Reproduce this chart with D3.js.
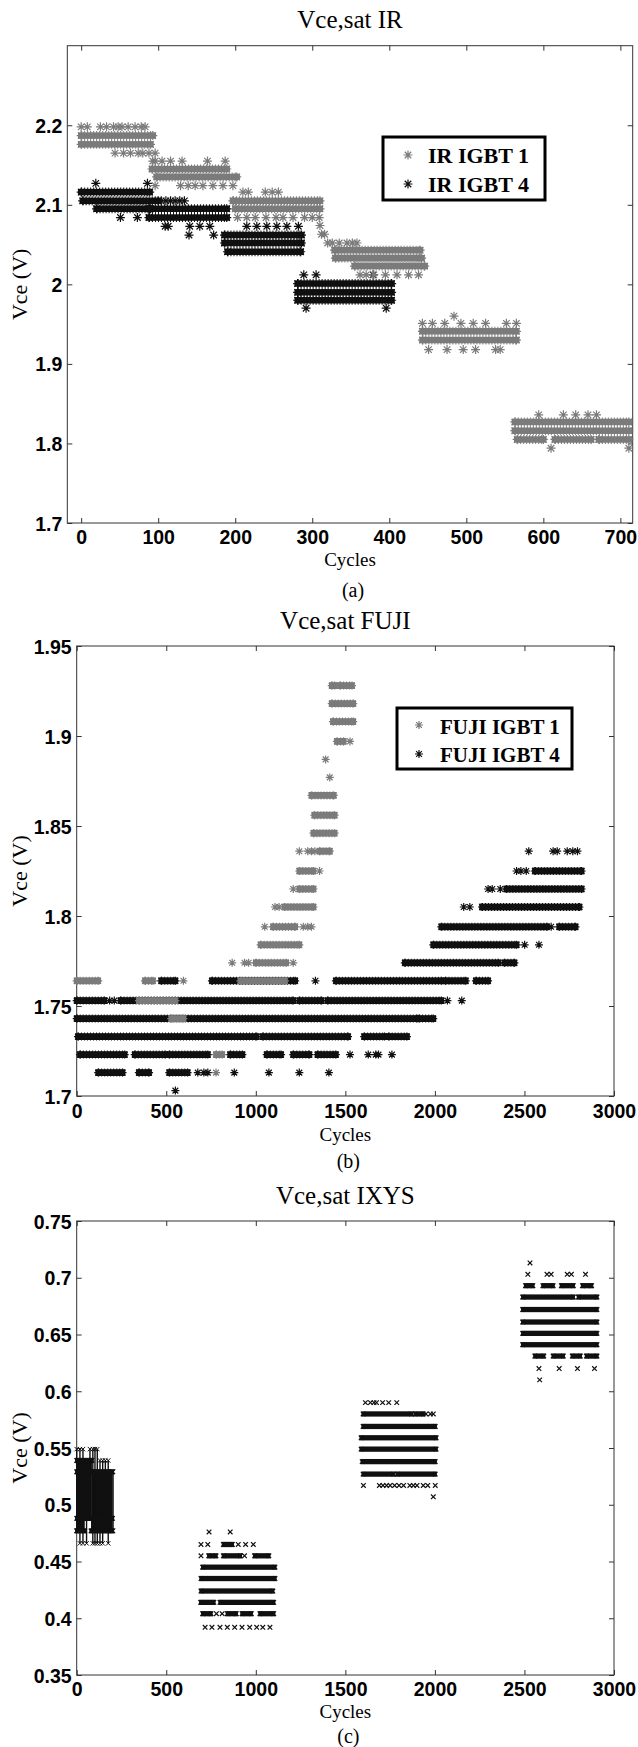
<!DOCTYPE html>
<html><head><meta charset="utf-8">
<script src="https://cdn.jsdelivr.net/npm/d3@7"></script>
<style>
html,body{margin:0;padding:0;background:#fff;}
svg{display:block;}
</style></head>
<body>
<script>
// ---------- Panel (a): Vce,sat IR ----------
const irCycleTicks = [0,100,200,300,400,500,600,700];
const irVoltTicks = [1.7,1.8,1.9,2.0,2.1,2.2];
// dense runs: [startCycle, endCycle, Vce]
const irIgbt1Runs = [
 [0,93,2.187],[0,90,2.176],
 [92,189,2.145],[98,202,2.135],
 [197,310,2.105],[200,310,2.095],
 [329,440,2.043],[330,442,2.033],[355,446,2.023],
 [443,565,1.941],[443,565,1.930],
 [563,711,1.827],[563,711,1.816],[566,600,1.805],[615,662,1.805],[672,711,1.805]
];
const irIgbt1Points = [
 [0,2.198],[8,2.198],[25,2.198],[33,2.198],[42,2.198],[48,2.198],[53,2.198],[61,2.198],[70,2.198],[78,2.198],[83,2.198],
 [44,2.165],[55,2.165],[64,2.165],[74,2.165],[80,2.165],[88,2.165],[96,2.165],
 [93,2.155],[96,2.124],
 [96,2.155],[105,2.155],[116,2.155],[131,2.155],[164,2.155],[187,2.155],
 [129,2.124],[139,2.124],[148,2.124],[158,2.124],[171,2.124],[184,2.124],[197,2.124],
 [210,2.116],[217,2.116],[239,2.116],[248,2.116],[256,2.116],
 [203,2.084],[215,2.084],[226,2.084],[240,2.084],[253,2.084],[262,2.084],[275,2.084],[290,2.084],[300,2.084],[309,2.084],
 [310,2.074],[312,2.063],[316,2.063],[320,2.052],
 [326,2.052],[335,2.052],[345,2.052],[352,2.052],[358,2.052],
 [362,2.012],[370,2.012],[380,2.012],[395,2.012],[410,2.012],[425,2.012],[438,2.012],
 [484,1.960],
 [443,1.951],[456,1.951],[472,1.951],[493,1.951],[509,1.951],[525,1.951],[552,1.951],[565,1.951],
 [451,1.918],[475,1.918],[496,1.918],[512,1.918],[538,1.918],[544,1.918],
 [594,1.836],[626,1.836],[642,1.836],[658,1.836],[669,1.836],
 [610,1.794],[711,1.794]
];
const irIgbt4Runs = [
 [0,89,2.116],[2,100,2.105],[20,90,2.095],
 [88,189,2.095],[88,189,2.084],
 [186,286,2.062],[186,286,2.052],[190,285,2.041],
 [281,403,2.001],[281,403,1.990],[281,403,1.980]
];
const irIgbt4Points = [
 [19,2.127],[86,2.127],
 [51,2.084],[73,2.084],
 [104,2.105],[110,2.105],[116,2.105],[122,2.105],[128,2.105],[134,2.105],
 [109,2.073],[113,2.073],[141,2.073],[154,2.073],[167,2.073],
 [140,2.062],[172,2.062],
 [215,2.073],[228,2.073],[241,2.073],[254,2.073],[267,2.073],[282,2.073],
 [289,2.012],[305,2.012],[379,2.012],
 [292,1.970],[396,1.970]
];
const irLegend = ["IR IGBT 1","IR IGBT 4"];

// ---------- Panel (b): Vce,sat FUJI ----------
const fujiCycleTicks = [0,500,1000,1500,2000,2500,3000];
const fujiVoltTicks = [1.7,1.75,1.8,1.85,1.9,1.95];
const fujiIgbt1Runs = [
 [1424,1440,1.928],[1470,1537,1.928],
 [1424,1544,1.918],[1431,1544,1.908],[1453,1490,1.897],
 [1311,1435,1.867],[1327,1440,1.856],[1322,1440,1.846],
 [1356,1413,1.836],[1243,1322,1.825],[1243,1322,1.815],
 [1160,1322,1.805],[1096,1220,1.794],[1027,1243,1.784],
 [1000,1170,1.774],
 [0,120,1.764],[381,426,1.764],[914,1163,1.764],
 [347,551,1.753],[528,596,1.743],[778,812,1.723]
];
const fujiIgbt1Points = [
 [1526,1.897],[1390,1.887],[1413,1.877],
 [1243,1.836],[1290,1.836],[1311,1.836],[1330,1.836],
 [1356,1.825],[1209,1.815],[1107,1.805],[1130,1.805],
 [1050,1.794],[1265,1.794],[1290,1.794],[1311,1.794],
 [868,1.774],[937,1.774],[960,1.774],[1209,1.774],
 [596,1.764],[778,1.713]
];
const fujiIgbt4Runs = [
 [120,256,1.713],[347,404,1.713],[517,619,1.713],
 [18,268,1.723],[324,494,1.723],[517,732,1.723],[857,925,1.723],[1061,1141,1.723],[1209,1299,1.723],[1345,1447,1.723],
 [7,1005,1.733],[1039,1515,1.733],[1605,1719,1.733],[1742,1844,1.733],
 [0,1900,1.743],[1912,1991,1.743],
 [0,154,1.753],[245,1209,1.753],[1243,1367,1.753],[1401,2036,1.753],
 [472,551,1.764],[755,1220,1.764],[1447,2036,1.764],[2059,2172,1.764],[2229,2297,1.764],
 [1832,2354,1.774],[2388,2444,1.774],
 [1991,2456,1.784],
 [2036,2626,1.794],[2694,2785,1.794],
 [2263,2807,1.805],
 [2399,2819,1.815],
 [2558,2819,1.825]
];
const fujiIgbt4Points = [
 [551,1.703],
 [676,1.713],[710,1.713],[732,1.713],[880,1.713],[1073,1.713],[1243,1.713],[1408,1.713],
 [1526,1.723],[1628,1.723],[1670,1.723],[1685,1.723],[1760,1.723],
 [184,1.753],[210,1.753],[2070,1.753],[2150,1.753],
 [1333,1.764],
 [2501,1.784],[2581,1.784],
 [2649,1.794],
 [2161,1.805],[2195,1.805],
 [2297,1.815],[2320,1.815],[2365,1.815],
 [2456,1.825],[2480,1.825],[2510,1.825],
 [2524,1.836],[2660,1.836],[2683,1.836],[2739,1.836],[2770,1.836],[2796,1.836]
];
const fujiLegend = ["FUJI IGBT 1","FUJI IGBT 4"];

// ---------- Panel (c): Vce,sat IXYS ----------
const ixysCycleTicks = [0,500,1000,1500,2000,2500,3000];
const ixysVoltTicks = [0.35,0.4,0.45,0.5,0.55,0.6,0.65,0.7,0.75];
// solid overlap region of the first block: [startCycle, endCycle, lowVce, highVce]
const ixysBlocks = [
 [0,85,0.486,0.541],[85,200,0.486,0.531],[0,45,0.476,0.486],[80,200,0.476,0.486]
];
const ixysRuns = [
 [0,85,0.539],[0,200,0.529],[0,200,0.488],[0,45,0.477],[80,200,0.477],
 [819,869,0.465],[737,778,0.455],[819,914,0.455],[993,1073,0.455],
 [703,1107,0.445],[694,1107,0.435],[694,1095,0.424],[692,766,0.414],[800,1100,0.414],
 [703,750,0.404],[841,891,0.404],[923,975,0.404],[1023,1100,0.404],
 [1599,1870,0.580],[1890,1935,0.580],[1599,2002,0.569],[1588,2007,0.559],[1588,2007,0.549],
 [1594,2002,0.538],[1599,1770,0.527],[1790,2002,0.527],
 [2506,2547,0.693],[2603,2660,0.693],[2706,2773,0.693],[2824,2875,0.693],
 [2490,2773,0.683],[2801,2905,0.683],[2490,2905,0.672],[2490,2905,0.661],[2490,2905,0.651],[2490,2905,0.641],
 [2558,2608,0.631],[2660,2717,0.631],[2767,2812,0.631],[2846,2905,0.631]
];
// vertical strokes in the early block: [cycle, lowVce, highVce]
const ixysColumns = [
 [0,0.477,0.549],[5,0.477,0.539],[18,0.466,0.549],[35,0.466,0.549],[55,0.466,0.539],[74,0.488,0.549],[90,0.466,0.549],
 [102,0.466,0.549],[115,0.466,0.549],[130,0.466,0.539],[145,0.466,0.539],[160,0.477,0.539],[176,0.466,0.539],[195,0.477,0.529],[203,0.477,0.529]
];
const ixysPoints = [
 [739,0.476],[857,0.476],
 [694,0.465],[732,0.465],[902,0.465],[943,0.465],[986,0.465],
 [694,0.455],[937,0.455],
 [780,0.404],[812,0.404],
 [717,0.392],[755,0.392],[800,0.392],[841,0.392],[882,0.392],[923,0.392],[966,0.392],[1005,0.392],[1039,0.392],[1079,0.392],
 [1612,0.590],[1640,0.590],[1660,0.590],[1674,0.590],[1708,0.590],[1742,0.590],[1787,0.590],
 [1950,0.580],[1975,0.580],[1991,0.580],
 [1601,0.517],[1690,0.517],[1710,0.517],[1730,0.517],[1750,0.517],[1775,0.517],[1800,0.517],[1825,0.517],[1860,0.517],[1880,0.517],[1900,0.517],[1935,0.517],[1960,0.517],[2002,0.517],
 [1991,0.507],
 [2531,0.713],
 [2519,0.703],[2626,0.703],[2649,0.703],[2739,0.703],[2762,0.703],[2841,0.703],
 [2581,0.620],[2694,0.620],[2796,0.620],[2891,0.620],
 [2585,0.610]
];

// ---------- drawing ----------
const W = 638, H = 1747;
const GRAY = "#7b7b7b", BLACK = "#101010";
const SERIF = "'Liberation Serif','Times New Roman',serif";
const SANS = "'Liberation Sans',Arial,sans-serif";
const svg = d3.select("body").append("svg").attr("width", W).attr("height", H);

function starPath(s){ const k = s*0.72; return `M${-s},0H${s}M0,${-s}V${s}M${-k},${-k}L${k},${k}M${-k},${k}L${k},${-k}`; }
function crossPath(s){ return `M${-s},${-s}L${s},${s}M${-s},${s}L${s},${-s}`; }

function panel(cfg){
  const x = d3.scaleLinear().domain(cfg.xDomain).range([cfg.left, cfg.right]);
  const y = d3.scaleLinear().domain(cfg.yDomain).range([cfg.bottom, cfg.top]);
  const g = svg.append("g");
  const cx = (cfg.left + cfg.right)/2;
  g.append("text").attr("x", cx).attr("y", cfg.titleY).attr("text-anchor","middle")
   .attr("font-family", SERIF).attr("font-size", 25).text(cfg.title);
  const axB = g.append("g").attr("transform", `translate(0,${cfg.bottom})`)
    .call(d3.axisBottom(x).tickValues(cfg.xTicks).tickSizeInner(-5).tickSizeOuter(0).tickPadding(8).tickFormat(d3.format("d")));
  const axL = g.append("g").attr("transform", `translate(${cfg.left},0)`)
    .call(d3.axisLeft(y).tickValues(cfg.yTicks).tickSizeInner(-5).tickSizeOuter(0).tickPadding(5).tickFormat(d => String(+d.toFixed(2))));
  const axT = g.append("g").attr("transform", `translate(0,${cfg.top})`)
    .call(d3.axisTop(x).tickValues(cfg.xTicks).tickSizeInner(-5).tickSizeOuter(0).tickFormat(""));
  const axR = g.append("g").attr("transform", `translate(${cfg.right},0)`)
    .call(d3.axisRight(y).tickValues(cfg.yTicks).tickSizeInner(-5).tickSizeOuter(0).tickFormat(""));
  [axB, axL, axT, axR].forEach(a => { a.select(".domain").remove(); a.selectAll("line").attr("stroke","#333"); });
  axB.selectAll("text").attr("font-family", SANS).attr("font-weight","bold").attr("font-size", 19.5).attr("fill","#000")
    .attr("dy", null).attr("y", cfg.tickLabelDy);
  axL.selectAll("text").attr("font-family", SANS).attr("font-weight","bold").attr("font-size", 19.5).attr("fill","#000").attr("dy","0.36em");
  g.append("rect").attr("x", cfg.left).attr("y", cfg.top).attr("width", cfg.right-cfg.left).attr("height", cfg.bottom-cfg.top)
   .attr("fill","none").attr("stroke","#333").attr("stroke-width",1);
  g.append("text").attr("x", cx).attr("y", cfg.cyclesY).attr("text-anchor","middle")
   .attr("font-family", SERIF).attr("font-size", 19).text("Cycles");
  g.append("text").attr("x", cx+3).attr("y", cfg.subY).attr("text-anchor","middle")
   .attr("font-family", SERIF).attr("font-size", 20).text(cfg.sub);
  g.append("text").attr("transform", `translate(27,${(cfg.top+cfg.bottom)/2}) rotate(-90)`).attr("text-anchor","middle")
   .attr("font-family", SERIF).attr("font-size", 22).text("Vce (V)");
  const plot = g.append("g");
  return {x, y, g, plot};
}

function drawSeries(p, runs, pts, color, s, marker, coreFrac, comb){
  const {x, y, plot} = p;
  const gs = plot.append("g");
  const mp = marker === "star" ? starPath(s) : crossPath(s);
  gs.selectAll("rect.core").data(runs).join("rect").attr("class","core")
    .attr("x", d => x(d[0]) - s*0.7).attr("width", d => x(d[1]) - x(d[0]) + s*1.4)
    .attr("y", d => y(d[2]) - s*coreFrac).attr("height", 2*s*coreFrac).attr("fill", color);
  if (comb) {
    gs.selectAll("path.comb").data(runs).join("path").attr("class","comb")
      .attr("d", d => `M${x(d[0])},${y(d[2])}H${x(d[1])}`)
      .attr("stroke", color).attr("stroke-width", 2*s).attr("stroke-dasharray","1 2").attr("fill","none");
  }
  const ends = runs.flatMap(d => [[d[0], d[2]], [d[1], d[2]]]);
  gs.selectAll("path.end").data(ends).join("path").attr("class","end")
    .attr("transform", d => `translate(${x(d[0])},${y(d[1])})`).attr("d", mp)
    .attr("stroke", color).attr("stroke-width", 1.2).attr("fill","none");
  gs.selectAll("path.pt").data(pts).join("path").attr("class","pt")
    .attr("transform", d => `translate(${x(d[0])},${y(d[1])})`).attr("d", mp)
    .attr("stroke", color).attr("stroke-width", 1.2).attr("fill","none");
}

function legend(p, box, labels, s, fontSize){
  const lg = p.g.append("g");
  lg.append("rect").attr("x", box.x).attr("y", box.y).attr("width", box.w).attr("height", box.h)
    .attr("fill","#fff").attr("stroke","#000").attr("stroke-width",3);
  const colors = [GRAY, BLACK];
  labels.forEach((t, i) => {
    lg.append("path").attr("transform", `translate(${box.mx},${box.my[i]})`).attr("d", starPath(s))
      .attr("stroke", colors[i]).attr("stroke-width", 1.2).attr("fill","none");
    lg.append("text").attr("x", box.tx).attr("y", box.ty[i]).attr("font-family", SERIF).attr("font-weight","bold")
      .attr("font-size", fontSize).text(t);
  });
}

// Panel a
const pa = panel({title:"Vce,sat IR", titleY:28, left:67.3, right:632.7, top:45.7, bottom:523,
  xDomain:[-18,716], yDomain:[1.7,2.3], xTicks:irCycleTicks, yTicks:irVoltTicks,
  tickLabelDy:21, cyclesY:566, subY:597, sub:"(a)"});
drawSeries(pa, irIgbt4Runs, irIgbt4Points, BLACK, 4.5, "star", 0.72, true);
drawSeries(pa, irIgbt1Runs, irIgbt1Points, GRAY, 4.5, "star", 0.72, true);
legend(pa, {x:383, y:137, w:162, h:63, mx:408, my:[155,184], tx:428, ty:[163,192]}, irLegend, 4.5, 22);

// Panel b
const pb = panel({title:"Vce,sat FUJI", titleY:629, left:76.7, right:614, top:646, bottom:1096,
  xDomain:[0,3000], yDomain:[1.7,1.95], xTicks:fujiCycleTicks, yTicks:fujiVoltTicks,
  tickLabelDy:22, cyclesY:1141, subY:1168, sub:"(b)"});
drawSeries(pb, fujiIgbt4Runs, fujiIgbt4Points, BLACK, 4, "star", 0.85, true);
drawSeries(pb, fujiIgbt1Runs, fujiIgbt1Points, GRAY, 4, "star", 0.85, true);
legend(pb, {x:397, y:708, w:175, h:61, mx:419, my:[725,754], tx:440, ty:[734,762]}, fujiLegend, 4, 21);

// Panel c
const pc = panel({title:"Vce,sat IXYS", titleY:1204, left:76.7, right:614, top:1221, bottom:1675,
  xDomain:[0,3000], yDomain:[0.35,0.75], xTicks:ixysCycleTicks, yTicks:ixysVoltTicks,
  tickLabelDy:21, cyclesY:1718, subY:1743, sub:"(c)"});
pc.plot.append("g").selectAll("rect").data(ixysBlocks).join("rect")
  .attr("x", d => pc.x(d[0])).attr("width", d => pc.x(d[1]) - pc.x(d[0]))
  .attr("y", d => pc.y(d[3])).attr("height", d => pc.y(d[2]) - pc.y(d[3])).attr("fill", BLACK);
pc.plot.append("g").selectAll("line").data(ixysColumns).join("line")
  .attr("x1", d => pc.x(d[0])).attr("x2", d => pc.x(d[0]))
  .attr("y1", d => pc.y(d[1])).attr("y2", d => pc.y(d[2]))
  .attr("stroke", BLACK).attr("stroke-width", 1.4);
pc.plot.append("g").selectAll("path").data(ixysColumns.flatMap(d => [[d[0], d[1]], [d[0], d[2]]])).join("path")
  .attr("transform", d => `translate(${pc.x(d[0])},${pc.y(d[1])})`).attr("d", crossPath(2.2))
  .attr("stroke", BLACK).attr("stroke-width", 1).attr("fill","none");
drawSeries(pc, ixysRuns, ixysPoints, BLACK, 2.3, "cross", 1.15, false);
</script>
</body></html>
